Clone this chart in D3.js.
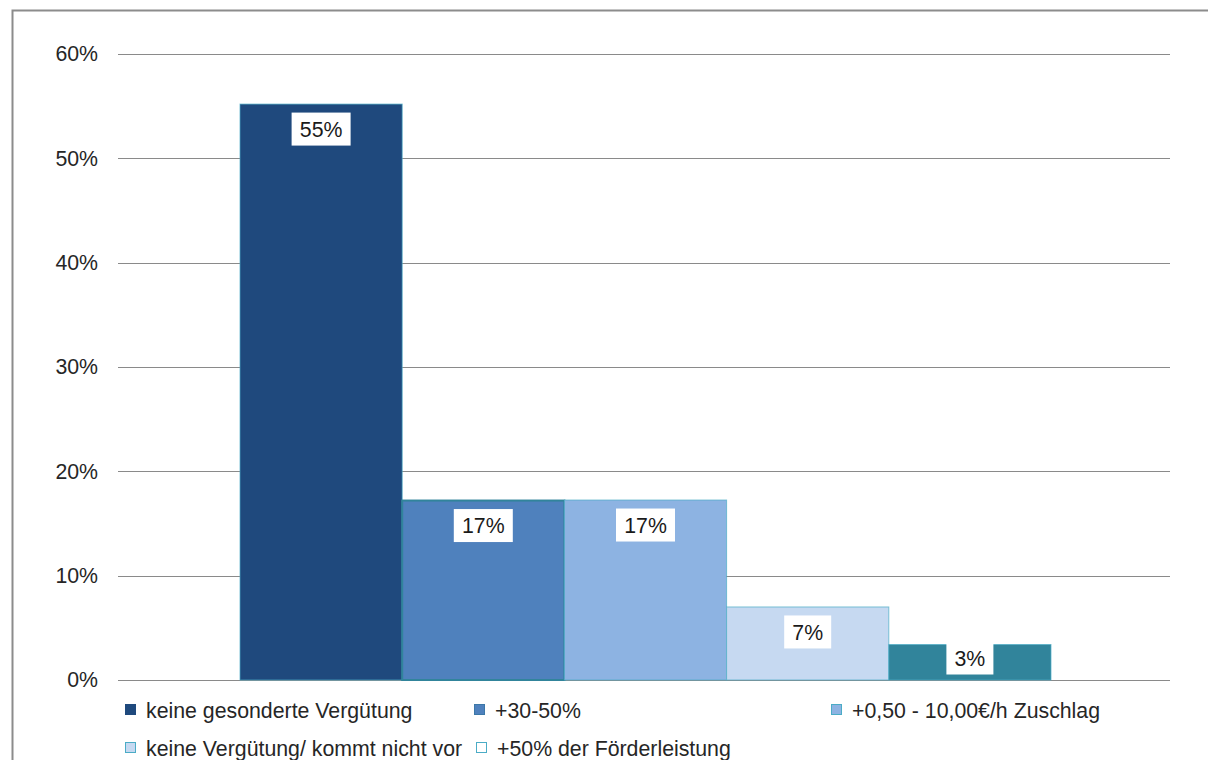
<!DOCTYPE html>
<html><head><meta charset="utf-8">
<script src="https://cdn.jsdelivr.net/npm/d3@7/dist/d3.min.js"></script>
<style>body{margin:0;background:#fff;}svg{display:block;font-family:"Liberation Sans",Arial,sans-serif;}</style>
</head><body><svg id="c" width="1208" height="760"></svg>
<script>
const seriesNames = ["keine gesonderte Vergütung","+30-50%","+0,50 - 10,00€/h Zuschlag","keine Vergütung/ kommt nicht vor","+50% der Förderleistung"];
const seriesValues = [55.2, 17.2, 17.25, 7.0, 3.4];
const seriesLabels = ["55%","17%","17%","7%","3%"];
const seriesColors = ["#1F497D","#4F81BD","#8DB3E2","#C6D9F1","#31849B"];
const legendFills = ["#1F497D","#4F81BD","#8DB3E2","#C6D9F1","#FFFFFF"];
const yTicks = [0,10,20,30,40,50,60];

const FS = 21.3;
const svg = d3.select("#c");
// frame
svg.append("path").attr("d","M12.5,760 V10.5 H1208").attr("fill","none").attr("stroke","#8c8c8c").attr("stroke-width",2);

const y = d3.scaleLinear().domain([0,60]).range([680,54]);
const x = d3.scaleBand().domain(seriesNames).range([240,1051]).padding(0);

// gridlines
svg.append("g").selectAll("line").data(yTicks).join("line")
  .attr("x1",118).attr("x2",1170).attr("y1",d=>Math.round(y(d))+0.5).attr("y2",d=>Math.round(y(d))+0.5)
  .attr("stroke","#8a8a8a").attr("stroke-width",1);

// y axis labels
const yAxis = d3.axisLeft(y).tickValues(yTicks).tickFormat(d=>d+"%").tickSize(0).tickPadding(0);
const ga = svg.append("g").attr("transform","translate(98,0)").call(yAxis);
ga.select(".domain").remove();
ga.selectAll("text").attr("font-size",FS).attr("fill","#262626").attr("font-family","Liberation Sans, Arial, sans-serif");

// bars
const data = seriesNames.map((n,i)=>({n,v:seriesValues[i],l:seriesLabels[i],c:seriesColors[i],i}));
svg.append("g").selectAll("rect").data(data).join("rect")
  .attr("x",d=>x(d.n)).attr("width",x.bandwidth())
  .attr("y",d=>y(d.v)).attr("height",d=>y(0)-y(d.v))
  .attr("fill",d=>d.c)
  .attr("stroke",d=>d.i===1?"#31849B":"#4BACC6")
  .attr("stroke-opacity",d=>d.i===1?1:0.7)
  .attr("stroke-width",d=>d.i===1?2:1);

// labels
const lab = svg.append("g").selectAll("g").data(data).join("g")
  .attr("transform",d=>`translate(${x(d.n)+x.bandwidth()/2},${d.i===4?y(0)-22:y(d.v)+25})`);
lab.append("rect").attr("x",d=>d.l.length===3?-29.5:-23.5).attr("width",d=>d.l.length===3?59:47)
  .attr("y",-16.5).attr("height",33).attr("fill","#fff");
lab.append("text").attr("text-anchor","middle").attr("dy","0.36em").attr("font-size",FS).attr("fill","#1a1a1a").text(d=>d.l);

// legend
const legPos = [[125,710],[474,710],[831,710],[125,748],[476,748]];
const lg = svg.append("g").selectAll("g").data(data).join("g")
  .attr("transform",(d,i)=>`translate(${legPos[i][0]},${legPos[i][1]})`);
lg.append("rect").attr("x",0.5).attr("y",-5.5).attr("width",10).attr("height",10)
  .attr("fill",(d,i)=>legendFills[i]).attr("stroke",(d,i)=>i===0?"#1F497D":(i===1?"#3C78A8":"#4BACC6")).attr("stroke-width",1);
lg.append("text").attr("x",21).attr("dy","0.36em").attr("font-size",FS).attr("fill","#262626").text(d=>d.n);
</script></body></html>
